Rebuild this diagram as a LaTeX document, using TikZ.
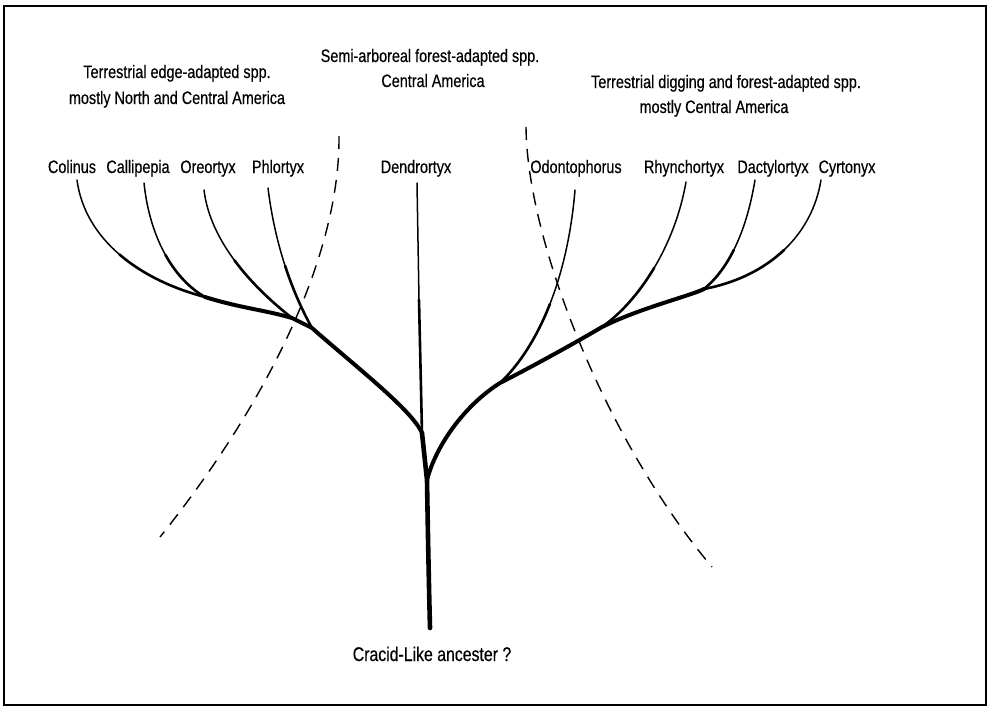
\documentclass[tikz,border=0pt]{standalone}
\usepackage{fontspec}
\setmainfont[FakeStretch=0.8, FakeBold=0.4]{Liberation Sans}
\usepackage{tikz}
\usetikzlibrary{positioning,calc}
\tikzset{
  taxontext/.style={font=\fontsize{18}{20}\selectfont, inner sep=0pt, anchor=base},
  grouptext/.style={taxontext},
  roottext/.style={taxontext, font=\fontsize{19.8}{22}\selectfont},
  frameline/.style={line width=1.5pt},
  twig/.style={line width=1.5pt, line cap=round},
  shoot/.style={line width=2.6pt, line cap=round},
  limb/.style={line width=4pt, line cap=round, line join=round},
  trunkline/.style={line width=4.6pt, line cap=round, line join=round},
  rangeline/.style={line width=1.4pt, dash pattern=on 13pt off 9pt},
}

\begin{document}
\begin{tikzpicture}[x=1pt, y=-1pt]
\useasboundingbox (0,0) rectangle (988,712);
\draw[frameline] (4,6) rectangle (986,705);

%% Group headings
\node[grouptext] (edgeA) at (177,78) {Terrestrial edge-adapted spp.};
\node[grouptext] (edgeB) at (177,104) {mostly North and Central America};
\node[grouptext] (semiA) at (430,62) {Semi-arboreal forest-adapted spp.};
\node[grouptext] (semiB) at (433,87) {Central America};
\node[grouptext] (digA) at (726,88) {Terrestrial digging and forest-adapted spp.};
\node[grouptext] (digB) at (714,113) {mostly Central America};

%% Genera
\node[taxontext] (colinus) at (72,173) {Colinus};
\node[taxontext] (callipepia) at (138,173) {Callipepia};
\node[taxontext] (oreortyx) at (208,173) {Oreortyx};
\node[taxontext] (philortyx) at (278,173) {Phlortyx};
\node[taxontext] (dendrortyx) at (416,173) {Dendrortyx};
\node[taxontext] (odonto) at (576,173) {Odontophorus};
\node[taxontext] (rhyncho) at (684,173) {Rhynchortyx};
\node[taxontext] (dactylo) at (773,173) {Dactylortyx};
\node[taxontext] (cyrto) at (847,173) {Cyrtonyx};
\node[roottext] (ancestor) at (432,661) {Cracid-Like ancester ?};

%% Tips, midpoints and forks
\coordinate (tColinus) at (77,180);    \coordinate (mColinus) at (119.6,254.6);
\coordinate (tCalli) at (144,183);     \coordinate (mCalli) at (165.5,255);
\coordinate (tOreo) at (204,190);      \coordinate (mOreo) at (234.5,260.4);
\coordinate (tPhil) at (268,188);      \coordinate (mPhil) at (285.1,265.9);
\coordinate (tDendro) at (417,183);    \coordinate (mDendro) at (419,300);
\coordinate (tOdonto) at (575,190);    \coordinate (mOdonto) at (549.9,304.1);
\coordinate (tRhyn) at (686,182);      \coordinate (mRhyn) at (654.1,268);
\coordinate (tDacty) at (755,180);     \coordinate (mDacty) at (733.75,250);
\coordinate (tCyrto) at (821,180);     \coordinate (mCyrto) at (784,250);
\coordinate (jA) at (205,297);
\coordinate (jB) at (292,318);
\coordinate (jP) at (312,328);
\coordinate (jL) at (422,433);
\coordinate (jR) at (427,480);
\coordinate (jO) at (500,383);
\coordinate (jQ) at (602,327);
\coordinate (jD) at (704,289);
\coordinate (root) at (430,628);

%% Range boundaries
\coordinate (rangeLtop) at (339,136);  \coordinate (rangeLend) at (160,537);
\coordinate (rangeRtop) at (526,127);  \coordinate (rangeRend) at (712,567);
\draw[rangeline] (rangeLtop) .. controls (340,260) and (262,410) .. (rangeLend);
\draw[rangeline] (rangeRtop) .. controls (527,240) and (605,440) .. (rangeRend);

%% Left clade
\draw[twig]  (tColinus) .. controls (81,210) and (96.75,235) .. (mColinus);
\draw[shoot] (mColinus) .. controls (142.5,274.25) and (172.5,288.5) .. (jA);
\draw[twig]  (tCalli) .. controls (147,211.5) and (154.75,235.75) .. (mCalli);
\draw[shoot] (mCalli) .. controls (176.25,274.25) and (190,288.5) .. (jA);
\draw[twig]  (tOreo) .. controls (207,215) and (218.5,238.75) .. (mOreo);
\draw[shoot] (mOreo) .. controls (250.5,282) and (271,301.5) .. (jB);
\draw[twig]  (tPhil) .. controls (271.5,216.5) and (277.5,242.5) .. (mPhil);
\draw[shoot] (mPhil) .. controls (292.75,289.25) and (302,310) .. (jP);
\draw[limb] (jA) .. controls (240,308) and (265,310) .. (jB) -- (jP)
  .. controls (355,366) and (412,410) .. (jL);

%% Middle stem
\draw[twig]  (tDendro) -- (mDendro);
\draw[shoot] (mDendro) -- (jL);
\draw[trunkline] (jL) -- (jR) .. controls (428,540) and (429,590) .. (root);

%% Right clade
\draw[twig]  (tOdonto) .. controls (571.5,232.5) and (562.75,271.25) .. (mOdonto);
\draw[shoot] (mOdonto) .. controls (537,337) and (520,364) .. (jO);
\draw[twig]  (tRhyn) .. controls (680.5,213.5) and (669,243) .. (mRhyn);
\draw[shoot] (mRhyn) .. controls (639.25,293) and (621,313.5) .. (jQ);
\draw[twig]  (tDacty) .. controls (750,210) and (742.5,232.5) .. (mDacty);
\draw[shoot] (mDacty) .. controls (725,267.5) and (715,280) .. (jD);
\draw[twig]  (tCyrto) .. controls (816.5,207.5) and (803.75,231.25) .. (mCyrto);
\draw[shoot] (mCyrto) .. controls (764.25,268.75) and (737.5,282.5) .. (jD);
\draw[limb] (jR) .. controls (436,445) and (465,405) .. (jO)
  .. controls (535,365) and (575,343) .. (jQ);
\draw[limb] (jD) .. controls (690,296) and (640,308) .. (jQ);
\end{tikzpicture}
\end{document}
